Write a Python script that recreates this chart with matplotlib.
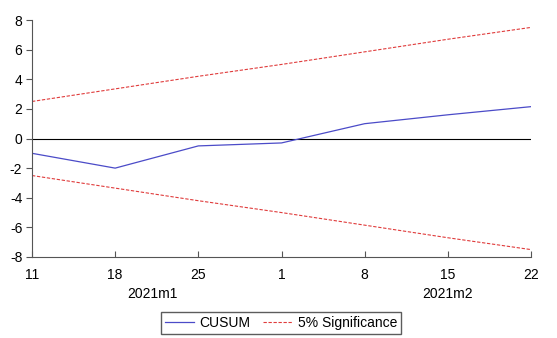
import matplotlib.pyplot as plt

days = ["11", "18", "25", "1", "8", "15", "22"]
months = ["2021m1", "2021m2"]
cusum = [-1.0, -2.0, -0.5, -0.3, 1.0, 1.6, 2.15]
upper = [2.5, 3.35, 4.2, 5.0, 5.85, 6.7, 7.5]
lower = [-u for u in upper]

plt.rcParams['font.family'] = ['Liberation Sans', 'DejaVu Sans']
plt.rcParams['axes.unicode_minus'] = False

fig = plt.figure(figsize=(5.57, 3.38), dpi=100)
ax = fig.add_axes([32 / 557, 1 - 257 / 338, (531 - 32) / 557, (257 - 20) / 338])

x = list(range(len(days)))
ax.axhline(0, color="black", lw=0.8)
ax.plot(x, cusum, color="#4b4bc8", lw=0.9, label="CUSUM")
ax.plot(x, upper, color="#e03c3c", lw=0.8, ls=(0, (3, 1.5)), label="5% Significance")
ax.plot(x, lower, color="#e03c3c", lw=0.8, ls=(0, (3, 1.5)))

ax.set_xlim(0, len(days) - 1)
ax.set_ylim(-8, 8)
ax.set_yticks(range(-8, 9, 2))
ax.set_xticks(x)
ax.set_xticklabels(days)
ax.spines["top"].set_visible(False)
ax.spines["right"].set_visible(False)
ax.spines["left"].set_color("#555555")
ax.spines["bottom"].set_color("#555555")
ax.tick_params(axis="y", direction="out", length=4, labelsize=10, color="#555555", pad=3)
ax.tick_params(axis="x", direction="in", length=4, labelsize=10, color="#555555", pad=8)

# month labels under the day ticks
ax.text(1.45, -0.155, months[0], transform=ax.get_xaxis_transform(), ha="center", va="center",
        fontsize=10)
ax.text(5.0, -0.155, months[1], transform=ax.get_xaxis_transform(), ha="center", va="center",
        fontsize=10)

fig.legend(loc="center", bbox_to_anchor=(281 / 557, 1 - 323 / 338), ncol=2, fontsize=10,
           frameon=True, fancybox=False, edgecolor="#333333", handlelength=2.1,
           borderpad=0.3, columnspacing=0.9, handletextpad=0.4, borderaxespad=0)

fig.savefig("out.png", dpi=100)
